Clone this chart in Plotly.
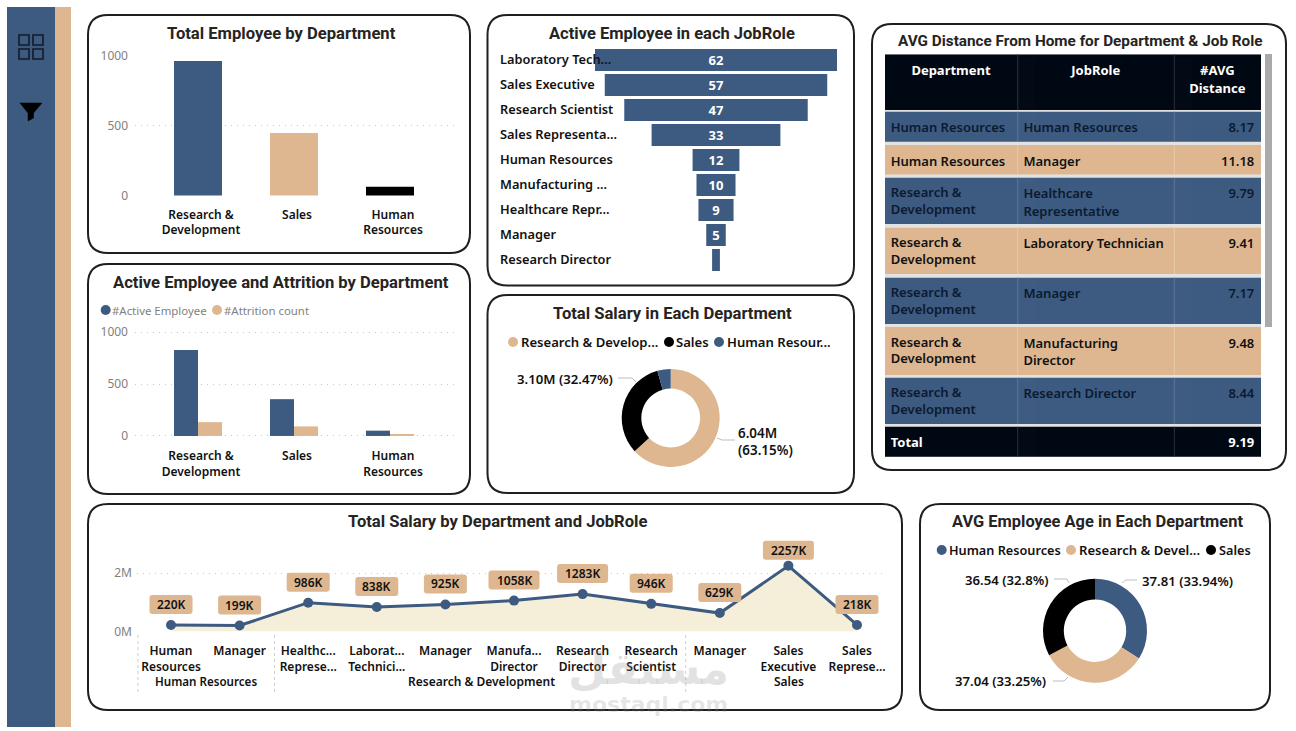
import plotly.graph_objects as go

W, H = 1296, 731
BLUE, TAN, BLACK = "#3D5A80", "#DEB790", "#000000"
GRID = "#c8c8c8"
GRID_DASH = "1px,5px"
TITLE_FONT = "Roboto"
BODY_FONT = "Noto Sans"

# ---------- data ----------
departments = ["Research &<br>Development", "Sales", "Human<br>Resources"]
total_employees = [961, 446, 63]
active_employees = [828, 354, 51]
attrition_count = [133, 92, 12]

funnel_roles = ["Laboratory Tech...", "Sales Executive", "Research Scientist", "Sales Representa...",
                "Human Resources", "Manufacturing ...", "Healthcare Repr...", "Manager", "Research Director"]
funnel_values = [62, 57, 47, 33, 12, 10, 9, 5, 2]
funnel_text = ["62", "57", "47", "33", "12", "10", "9", "5", ""]

salary_legend = ["Research & Develop...", "Sales", "Human Resour..."]
salary_values = [6.04, 3.10, 0.42]

age_legend = ["Human Resources", "Research & Devel...", "Sales"]
age_values = [37.81, 37.04, 36.54]

line_roles = ["Human<br>Resources", "Manager", "Healthc...<br>Represe...", "Laborat...<br>Technici...",
              "Manager", "Manufa...<br>Director", "Research<br>Director", "Research<br>Scientist",
              "Manager", "Sales<br>Executive", "Sales<br>Represe..."]
line_salary_k = [220, 199, 986, 838, 925, 1058, 1283, 946, 629, 2257, 218]

table_header = ["Department", "JobRole", "#AVG<br>Distance"]
table_departments = ["Human Resources", "Human Resources"] + ["Research &<br>Development"] * 5
table_jobroles = ["Human Resources", "Manager", "Healthcare<br>Representative", "Laboratory Technician",
                  "Manager", "Manufacturing<br>Director", "Research Director"]
table_distance = ["8.17", "11.18", "9.79", "9.41", "7.17", "9.48", "8.44"]
table_total = ["Total", "", "9.19"]


# ---------- pixel helpers ----------
def px(x):
    return x / W


def py(y):
    return 1 - y / H


shapes, annotations = [], []


def ann(x, y, text, size=12.5, color="#111111", weight=600, family=BODY_FONT, anchor="left", **kw):
    if anchor == "left":
        x -= 2
    annotations.append(dict(x=px(x), y=py(y), xref="paper", yref="paper", text=text, showarrow=False,
                            xanchor=anchor, yanchor="middle", align=anchor,
                            font=dict(size=size, color=color, family=family, weight=weight), **kw))


def rect(x0, y0, x1, y1, fill, layer="below"):
    shapes.append(dict(type="rect", xref="paper", yref="paper", x0=px(x0), x1=px(x1), y0=py(y0), y1=py(y1),
                       fillcolor=fill, line=dict(width=0), layer=layer))


def panel(x0, y0, x1, y1, r=20):
    p = (f"M {px(x0+r)} {py(y0)} L {px(x1-r)} {py(y0)} Q {px(x1)} {py(y0)} {px(x1)} {py(y0+r)} "
         f"L {px(x1)} {py(y1-r)} Q {px(x1)} {py(y1)} {px(x1-r)} {py(y1)} L {px(x0+r)} {py(y1)} "
         f"Q {px(x0)} {py(y1)} {px(x0)} {py(y1-r)} L {px(x0)} {py(y0+r)} Q {px(x0)} {py(y0)} {px(x0+r)} {py(y0)} Z")
    shapes.append(dict(type="path", path=p, xref="paper", yref="paper", fillcolor="white",
                       line=dict(color="#1f1f1f", width=2), layer="below"))


def polyline(points, color="#bdbdbd", width=1, fill=None, dash=None, layer="above"):
    p = "M " + " L ".join(f"{px(a)} {py(b)}" for a, b in points)
    if fill:
        p += " Z"
    shapes.append(dict(type="path", path=p, xref="paper", yref="paper", fillcolor=fill,
                       line=dict(color=color, width=width, dash=dash), layer=layer))


def dot(x, y, color, r=5):
    shapes.append(dict(type="circle", xref="paper", yref="paper", x0=px(x - r), x1=px(x + r),
                       y0=py(y + r), y1=py(y - r), fillcolor=color, line=dict(width=0), layer="above"))


def dom_x(a, b):
    return [px(a), px(b)]


def dom_y(top, bottom):
    return [py(bottom), py(top)]


# ---------- chrome ----------
rect(7, 7, 55, 727, BLUE)
rect(55, 7, 71, 727, TAN)
for (a, b) in [(19, 35), (33, 35), (19, 49), (33, 49)]:
    shapes.append(dict(type="rect", xref="paper", yref="paper", x0=px(a), x1=px(a + 10), y0=py(b + 10), y1=py(b),
                       line=dict(color="#111b27", width=1.6), layer="above"))
polyline([(20, 103), (42, 103), (33.5, 113), (33.5, 118), (28, 121), (28, 113)], color="#000", width=0.5, fill="#000")

panel(88, 15, 470, 253)
panel(487.5, 15, 854, 285.5)
panel(88, 264, 470, 494)
panel(487.5, 295, 854, 493)
panel(88, 504, 902, 710)
panel(920, 504, 1270, 710)
panel(872, 24, 1286, 470)

for x, y, t, s in [(281, 33, "Total Employee by Department", 16.6), (672.5, 33, "Active Employee in each JobRole", 16.5),
                   (281, 282, "Active Employee and Attrition by Department", 16.6),
                   (672.5, 313.5, "Total Salary in Each Department", 16.6),
                   (497, 521, "Total Salary by Department and JobRole", 16.6),
                   (1097, 521, "AVG Employee Age in Each Department", 16.45),
                   (1080, 41, "AVG Distance From Home for Department & Job Role", 15.3)]:
    ann(x, y, t, size=s, color="#252423", weight=700, family=TITLE_FONT, anchor="center")

fig = go.Figure()

# ---------- column chart ----------
BAND_RANGE = [(135 - 198) / 96, (457 - 198) / 96]
common_x = dict(range=BAND_RANGE, tickmode="array", tickvals=[0, 1, 2], ticktext=departments, ticklen=0,
                showgrid=False, zeroline=False, showline=False, ticklabelshift=3,
                tickfont=dict(size=12, color="#111111", family=BODY_FONT, weight=600))
common_y = dict(tickvals=[0, 500, 1000], showline=False, zeroline=False, showgrid=True,
                gridcolor=GRID, griddash=GRID_DASH, gridwidth=1, ticklen=0, ticklabelstandoff=6,
                tickfont=dict(size=12, color="#7f7f7f", family=BODY_FONT))

fig.add_trace(go.Bar(x=[0, 1, 2], y=total_employees, marker=dict(color=[BLUE, TAN, BLACK], line=dict(width=0)),
                     xaxis="x", yaxis="y", showlegend=False))
fig.update_layout(xaxis=dict(domain=dom_x(135, 457), anchor="y", ticklabelstandoff=9, **common_x),
                  yaxis=dict(domain=dom_y(54.5, 196.5), anchor="x", range=[-7, 1007], **common_y))

# ---------- grouped chart ----------
fig.add_trace(go.Bar(x=[0, 1, 2], y=active_employees, marker=dict(color=BLUE, line=dict(width=0)),
                     xaxis="x2", yaxis="y2", showlegend=False, offsetgroup="a"))
fig.add_trace(go.Bar(x=[0, 1, 2], y=attrition_count, marker=dict(color=TAN, line=dict(width=0)),
                     xaxis="x2", yaxis="y2", showlegend=False, offsetgroup="b"))
fig.update_layout(xaxis2=dict(domain=dom_x(135, 457), anchor="y2", ticklabelstandoff=10, **common_x),
                  yaxis2=dict(domain=dom_y(331, 437), anchor="x2", range=[-10, 1010], **common_y),
                  barmode="group", bargap=0.5, bargroupgap=0)
dot(105.7, 310, BLUE)
ann(112, 310, "#Active Employee", size=11.4, color="#7f7f7f", weight=400)
dot(217, 310, TAN)
ann(224, 310, "#Attrition count", size=11.4, color="#7f7f7f", weight=400)

# ---------- funnel ----------
fig.add_trace(go.Funnel(y=funnel_roles, x=funnel_values, orientation="h", text=funnel_text, textinfo="text",
                        textposition="inside", insidetextanchor="middle", textangle=0, constraintext="none",
                        textfont=dict(color="white", size=13, family=BODY_FONT, weight=700),
                        marker=dict(color=BLUE, line=dict(width=0)), connector=dict(visible=False),
                        xaxis="x3", yaxis="y3", showlegend=False))
fig.update_layout(xaxis3=dict(domain=dom_x(595, 837), anchor="y3", range=[-31, 31], visible=False),
                  yaxis3=dict(domain=dom_y(47.5, 272.5), anchor="x3", range=[8.5, -0.5], visible=False,
                              type="category", categoryorder="array", categoryarray=funnel_roles),
                  funnelgap=0.12, funnelmode="stack")
for i, role in enumerate(funnel_roles):
    annotations.append(dict(x=px(498), xref="paper", y=role, yref="y3", text=role, showarrow=False, xanchor="left",
                            yanchor="middle", yshift=1,
                            font=dict(size=12.8, color="#111111", family=BODY_FONT, weight=600)))

# ---------- salary donut ----------
fig.add_trace(go.Pie(labels=salary_legend, values=salary_values, hole=0.6, sort=False, direction="clockwise",
                     rotation=0, textinfo="none", marker=dict(colors=[TAN, BLACK, BLUE], line=dict(width=0)),
                     domain=dict(x=dom_x(621.7, 719.7), y=dom_y(369, 467)), showlegend=False))
for x, t, c, tx in [(513, salary_legend[0], TAN, 520.5), (669, salary_legend[1], BLACK, 676.5),
                    (719, salary_legend[2], BLUE, 726.5)]:
    dot(x, 342, c)
    ann(tx, 342, t, size=13.1)
ann(517, 379, "3.10M (32.47%)", size=13.2)
ann(738, 441, "6.04M<br>(63.15%)", size=13.4)
polyline([(618, 378), (632, 378), (636, 382)])
polyline([(717, 438), (722, 440), (735, 440)])

# ---------- age donut ----------
fig.add_trace(go.Pie(labels=age_legend, values=age_values, hole=0.6, sort=False, direction="clockwise",
                     rotation=0, textinfo="none", marker=dict(colors=[BLUE, TAN, BLACK], line=dict(width=0)),
                     domain=dict(x=dom_x(1043, 1147), y=dom_y(578.7, 682.7)), showlegend=False))
for x, t, c, tx, s in [(941.7, age_legend[0], BLUE, 949, 12.7), (1071, age_legend[1], TAN, 1079, 13.1),
                       (1211, age_legend[2], BLACK, 1219, 12.7)]:
    dot(x, 550, c)
    ann(tx, 550, t, size=s)
ann(1142, 581, "37.81 (33.94%)", size=13.2)
ann(965, 580, "36.54 (32.8%)", size=13.2)
ann(955, 681, "37.04 (33.25%)", size=13.2)
polyline([(1122, 583), (1126, 580), (1137, 580)])
polyline([(1054, 579), (1067, 579), (1069, 583)])
polyline([(1053, 681), (1064, 681), (1068, 677)])

# ---------- line chart ----------
line_x = list(range(len(line_roles)))
line_m = [v / 1000 for v in line_salary_k]
PITCH = 68.6
fig.add_trace(go.Scatter(x=line_x, y=line_m, mode="lines+markers", fill="tozeroy", fillcolor="#F5EED9",
                         line=dict(color=BLUE, width=3), marker=dict(color=BLUE, size=10),
                         cliponaxis=False, xaxis="x4", yaxis="y4", showlegend=False))
fig.update_layout(xaxis4=dict(domain=dom_x(137, 886), anchor="y4", range=[(137 - 171) / PITCH, (886 - 171) / PITCH],
                              tickmode="array", tickvals=line_x, ticktext=line_roles, ticklen=0, showgrid=False,
                              zeroline=False, showline=False, ticklabelstandoff=10,
                              tickfont=dict(size=12, color="#111111", family=BODY_FONT, weight=600)),
                  yaxis4=dict(domain=dom_y(535, 632.2), anchor="x4", range=[-0.031, 3.32], tickmode="array",
                              tickvals=[0, 2], ticktext=["0M", "2M"], showgrid=True, gridcolor=GRID, griddash=GRID_DASH,
                              zeroline=False, showline=False, ticklen=0, ticklabelstandoff=4,
                              tickfont=dict(size=12, color="#7f7f7f", family=BODY_FONT)))
for i, (xv, yv, k) in enumerate(zip(line_x, line_m, line_salary_k)):
    shift = 15.5 if k == max(line_salary_k) else 20.5
    label = f"{k}K"
    hw = 25.5 if len(label) == 5 else 21.5
    a, b = shift - 9.5, shift + 9.5
    r = 3
    shapes.append(dict(type="path", xref="x4", yref="y4", xsizemode="pixel", ysizemode="pixel", xanchor=xv, yanchor=yv,
                       path=(f"M {-hw+r} {a} L {hw-r} {a} Q {hw} {a} {hw} {a+r} L {hw} {b-r} Q {hw} {b} {hw-r} {b} "
                             f"L {-hw+r} {b} Q {-hw} {b} {-hw} {b-r} L {-hw} {a+r} Q {-hw} {a} {-hw+r} {a} Z"),
                       fillcolor=TAN, line=dict(width=0), layer="above"))
    annotations.append(dict(x=xv, y=yv, xref="x4", yref="y4", text=label, showarrow=False, xanchor="center",
                            yanchor="middle", yshift=shift,
                            font=dict(size=12, color="#111111", family=BODY_FONT, weight=600)))
for x in [138, 274.5, 685.7]:
    polyline([(x, 635), (x, 692)], color="#cfcfcf", width=1, dash="dot")
for x, t, s in [(206, "Human Resources", 11.6), (481, "Research & Development", 12), (789, "Sales", 12)]:
    ann(x, 681, t, size=s, weight=600, anchor="center")

# ---------- table ----------
TX0, TX1 = 885, 1261
COL_EDGES = [TX0, 1017.7, 1174.3, TX1]
rect(TX0, 54, TX1, 457, "#e2e2e2")
rect(1265, 54, 1272, 327, "#a9a9a9")
HDR = "#000814"


def table_cell(col, top, bottom, value, font_color, align, weight):
    """A single go.Table cell. Text with '&' takes plotly's markup path, which sits lower, so it starts higher."""
    left, right = COL_EDGES[col], COL_EDGES[col + 1]
    if align == "left":
        left -= 2.3
    elif align == "right":
        right += 2
    has_markup = "&" in value
    offset = -2.5 if has_markup else 3
    lines = [[value]] if has_markup else [value.replace(" ", "\u00a0").split("<br>")]
    n = len(lines[0])
    fig.add_trace(go.Table(domain=dict(x=dom_x(left, right), y=dom_y(top + offset, bottom + 8)),
                           header=dict(values=lines, height=17.5 if n > 1 else (bottom - top), align=align,
                                       fill=dict(color="rgba(0,0,0,0)"), line=dict(color="rgba(0,0,0,0)", width=0),
                                       font=dict(size=13, color=font_color, family=BODY_FONT, weight=weight))))


def table_row(top, bottom, vals, fill, font_color, aligns, edge, weight=600):
    rect(TX0, top, TX1, bottom, fill)
    for x in COL_EDGES[1:3]:
        polyline([(x, top), (x, bottom)], color=edge, width=1, layer="below")
    for col, (v, al) in enumerate(zip(vals, aligns)):
        if v:
            table_cell(col, top, bottom, v, font_color, al, weight)


table_row(54.5, 110, table_header, HDR, "white", ["center"] * 3, "#2a2f38", 700)
row_tops = [111.7, 145, 177.7, 227.7, 277.7, 327, 377.7]
row_bottoms = [141.7, 174.5, 224, 274, 324, 375, 424]
for i, (t, b) in enumerate(zip(row_tops, row_bottoms)):
    is_blue = i % 2 == 0
    table_row(t, b, [table_departments[i], table_jobroles[i], table_distance[i]], BLUE if is_blue else TAN,
              "#0b1a30" if is_blue else "#111111", ["left", "left", "right"], "#5b7697" if is_blue else "#e8cba8")
table_row(426.7, 456.7, table_total, HDR, "white", ["left", "left", "right"], "#2a2f38", 700)

# ---------- watermark ----------
ann(648, 668, "مستقل", size=44, color="rgba(140,140,140,0.25)", weight=700, family="DejaVu Sans", anchor="center")
ann(648, 704, "mostaql.com", size=22, color="rgba(140,140,140,0.22)", weight=700, family="DejaVu Sans", anchor="center")

fig.update_layout(width=W, height=H, margin=dict(l=0, r=0, t=0, b=0, autoexpand=False), paper_bgcolor="white",
                  plot_bgcolor="rgba(0,0,0,0)", shapes=shapes, annotations=annotations, showlegend=False,
                  font=dict(family=BODY_FONT))
fig.write_html("out.html", post_script="document.body.style.margin='0';document.body.style.overflow='hidden';",
               config=dict(displayModeBar=False))
